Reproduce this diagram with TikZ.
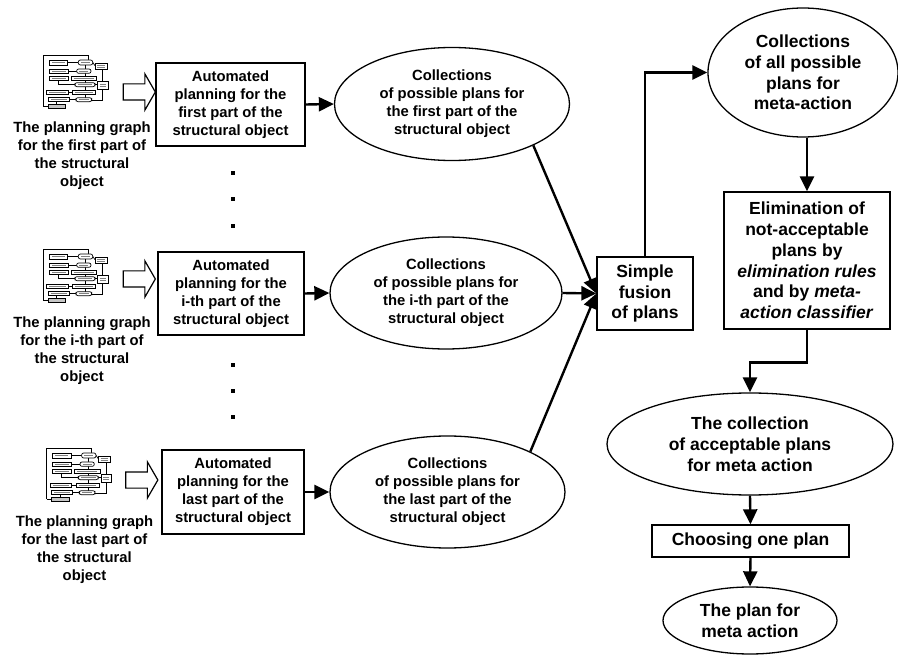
\documentclass[tikz,border=0pt]{standalone}
\usepackage{fontspec}
\setmainfont{Liberation Sans}
\usetikzlibrary{shapes.geometric,shapes.arrows,arrows.meta}

% thumbnail of a planning graph, drawn at a third of the scale
\newcommand\pgicon[2]{%
  \begin{scope}[shift={(#1,#2)},x=0.3333pt,y=-0.3333pt,line width=0.7pt]
    \draw (130,258) -- (130,105) -- (265,105) -- (265,120);
    \draw (203,127) -- (235,127);
    \draw (278,127) -- (285,137);
    \draw (205,153) -- (230,153);
    \draw (255,135) -- (255,147);
    \draw (255,160) -- (255,168);
    \draw (255,180) -- (255,188);
    \draw (175,180) -- (175,194) -- (225,194);
    \draw (285,194) -- (293,194);
    \draw (308,148) -- (308,185);
    \draw (308,208) -- (308,240) -- (275,240);
    \draw (205,216) -- (218,216);
    \draw (255,200) -- (255,210);
    \draw (255,223) -- (255,233);
    \draw (208,239) -- (228,239);
    \draw (130,258) -- (145,258);
    \draw (170,245) -- (170,253);
    \begin{scope}[fill=white]
      \filldraw (148,120) rectangle (203,135);
      \filldraw[rounded corners=2pt] (235,120) rectangle (278,135);
      \filldraw (285,130) rectangle (322,148);
      \filldraw (148,147) rectangle (205,160);
      \filldraw[rounded corners=2pt] (230,147) rectangle (273,160);
      \filldraw (148,168) rectangle (205,180);
      \filldraw (213,168) rectangle (290,180);
      \filldraw[rounded corners=2pt] (225,188) rectangle (285,200);
      \filldraw (293,185) rectangle (325,208);
      \filldraw (140,210) rectangle (205,223);
      \filldraw (218,210) rectangle (287,223);
      \filldraw (145,233) rectangle (208,245);
      \filldraw[rounded corners=2pt] (228,233) rectangle (275,245);
      \filldraw[fill=gray!45] (145,253) rectangle (197,265);
    \end{scope}
    \begin{scope}[gray,line width=0.5pt]
      \draw (156,127.5) -- (195,127.5);
      \draw (243,127.5) -- (270,127.5);
      \draw (292,136) -- (315,136); \draw (292,142) -- (315,142);
      \draw (156,153.5) -- (197,153.5);
      \draw (238,153.5) -- (265,153.5);
      \draw (156,174) -- (197,174);
      \draw (221,174) -- (282,174);
      \draw (233,194) -- (277,194);
      \draw (300,192) -- (318,192); \draw (300,198) -- (318,198);
      \draw (148,216.5) -- (197,216.5);
      \draw (226,216.5) -- (279,216.5);
      \draw (153,239) -- (200,239);
      \draw (236,239) -- (267,239);
    \end{scope}
  \end{scope}}

\begin{document}
\begin{tikzpicture}[x=1pt,y=-1pt,
  every node/.style={align=center,inner sep=0pt},
  lbl/.style={font=\fontsize{14.8}{18}\selectfont\bfseries},
  rlbl/.style={font=\fontsize{17.5}{20.8}\selectfont\bfseries},
  stepbox/.style={draw,rectangle,line width=1.3pt},
  oval/.style={draw,ellipse,line width=1.3pt},
  conn/.style={line width=2.4pt,-{Triangle[length=15pt 0 0,width=14pt 0 0]}},
  hollow/.style={draw,single arrow,line width=1.2pt,inner sep=7.5pt,
    minimum height=32pt,single arrow head extend=10pt,
    single arrow tip angle=120,shape border rotate=0},
  dotmark/.style={fill,rectangle,minimum size=3.2pt}]
\useasboundingbox (0,0) rectangle (898,655);

% planning graph thumbnails
\pgicon{0}{20}
\pgicon{0}{214}
\pgicon{3.3}{413}

% their captions
\node[lbl] (g1) at (82,156) {The planning graph\\for the first part of\\the structural\\object};
\node[lbl] (g2) at (82,351) {The planning graph\\for the i-th part of\\the structural\\object};
\node[lbl] (g3) at (84.5,550) {The planning graph\\for the last part of\\the structural\\object};

% block arrows into the planners
\node[hollow] (h1) at (137,92) {};
\node[hollow] (h2) at (137,279) {};
\node[hollow] (h3) at (139.5,480) {};

% planners
\node[stepbox,lbl,minimum width=149pt,minimum height=83pt] (a1) at (230.5,104.5)
  {Automated\\planning for the\\first part of the\\structural object};
\node[stepbox,lbl,minimum width=146pt,minimum height=83pt] (a2) at (231,293.5)
  {Automated\\planning for the\\i-th part of the\\structural object};
\node[stepbox,lbl,minimum width=142pt,minimum height=84pt] (a3) at (233,492)
  {Automated\\planning for the\\last part of the\\structural object};

% omitted parts
\node[dotmark] (d1) at (233,173) {};
\node[dotmark] (d2) at (233,199) {};
\node[dotmark] (d3) at (233,226) {};
\node[dotmark] (d4) at (233,365) {};
\node[dotmark] (d5) at (233,391) {};
\node[dotmark] (d6) at (233,417) {};

% plan collections per part
\node[oval,lbl,minimum width=235pt,minimum height=113pt] (c1) at (452,104)
  {Collections\\of possible plans for\\the first part of the\\structural object};
\node[oval,lbl,minimum width=232pt,minimum height=112pt] (c2) at (446,293)
  {Collections\\of possible plans for\\the i-th part of the\\structural object};
\node[oval,lbl,minimum width=235pt,minimum height=112pt] (c3) at (447.5,492)
  {Collections\\of possible plans for\\the last part of the\\structural object};

% fusion and the meta-action stage
\node[stepbox,rlbl,minimum width=96pt,minimum height=73pt] (fu) at (645,293.5)
  {Simple\\fusion\\of plans};
\node[oval,rlbl,minimum width=190pt,minimum height=129pt] (all) at (803,72.5)
  {Collections\\of all possible\\plans for\\meta-action};
\node[stepbox,rlbl,minimum width=166pt,minimum height=137pt] (el) at (807,260.5)
  {Elimination of\\not-acceptable\\plans by\\\textit{elimination rules}\\and by \textit{meta-}\\\textit{action classifier}};
\node[oval,rlbl,minimum width=286pt,minimum height=102pt] (acc) at (750,444)
  {The collection\\of acceptable plans\\for meta action};
\node[stepbox,rlbl,minimum width=197pt,minimum height=32pt] (ch) at (750.5,541)
  {Choosing one plan};
\node[oval,rlbl,minimum width=174pt,minimum height=67pt] (pl) at (750,620.5)
  {The plan for\\meta action};

% connectors
\draw[conn] (a1.east) -- (c1.west);
\draw[conn] (a2.east) -- (c2.west);
\draw[conn] (a3.east) -- (c3.west);
\draw[conn] (c1.-27) -- (fu.west);
\draw[conn] (c2.east) -- (fu.west);
\draw[conn] (c3.26) -- (fu.west);
\draw[conn] (fu.north) |- (all.west);
\draw[conn] (el.north |- all.south) -- (el.north);
\draw[conn] (el.south) -- ++(0,33) -| (acc.north);
\draw[conn] (acc.south) -- (ch.north);
\draw[conn] (ch.south) -- (pl.north);
\end{tikzpicture}
\end{document}
